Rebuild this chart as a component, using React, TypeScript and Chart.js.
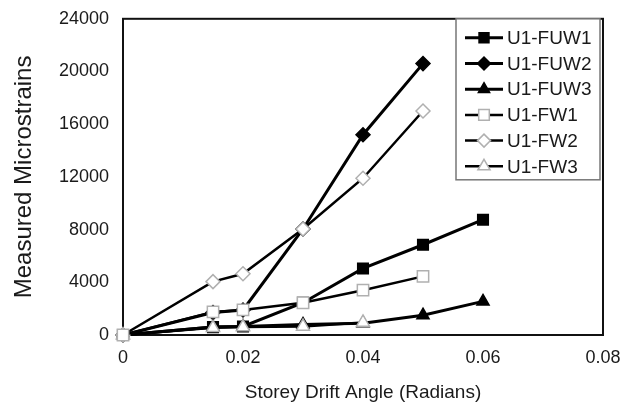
import React, { useEffect, useRef } from 'react';
import { Chart, registerables } from 'chart.js';
import { drawPoint } from 'chart.js/helpers';

Chart.register(...registerables);

// ---- data ----
const seriesNames = ['U1-FUW1', 'U1-FUW2', 'U1-FUW3', 'U1-FW1', 'U1-FW2', 'U1-FW3'];

const driftFUW1 = [0, 0.015, 0.02, 0.03, 0.04, 0.05, 0.06];
const strainFUW1 = [0, 600, 650, 2450, 5050, 6850, 8750];

const driftFUW2 = [0, 0.015, 0.02, 0.03, 0.04, 0.05];
const strainFUW2 = [0, 1700, 1900, 8050, 15200, 20600];

const driftFUW3 = [0, 0.015, 0.02, 0.03, 0.04, 0.05, 0.06];
const strainFUW3 = [0, 600, 650, 800, 900, 1500, 2550];

const driftFW1 = [0, 0.015, 0.02, 0.03, 0.04, 0.05];
const strainFW1 = [0, 1750, 1900, 2450, 3400, 4450];

const driftFW2 = [0, 0.015, 0.02, 0.03, 0.04, 0.05];
const strainFW2 = [0, 4050, 4650, 8050, 11900, 17000];

const driftFW3 = [0, 0.015, 0.02, 0.03, 0.04];
const strainFW3 = [0, 550, 600, 650, 950];

const xTicks = [0, 0.02, 0.04, 0.06, 0.08];
const yTicks = [0, 4000, 8000, 12000, 16000, 20000, 24000];

const xTitle = 'Storey Drift Angle (Radians)';
const yTitle = 'Measured Microstrains';

// ---- styles ----
const FONT = "'Liberation Sans', Arial, Helvetica, sans-serif";
const OPEN = '#b0b0b0';
const styles = [
  { pointStyle: 'rect', radius: 7.5, fill: '#000', stroke: '#000', lw: 3, order: 1 },
  { pointStyle: 'rectRot', radius: 7, fill: '#000', stroke: '#000', lw: 3, order: 1 },
  { pointStyle: 'triangle', radius: 7, fill: '#000', stroke: '#000', lw: 3, order: 1 },
  { pointStyle: 'rect', radius: 8, fill: '#fff', stroke: OPEN, lw: 2.5, order: 0 },
  { pointStyle: 'rectRot', radius: 7, fill: '#fff', stroke: OPEN, lw: 2.5, order: 0 },
  { pointStyle: 'triangle', radius: 7.5, fill: '#fff', stroke: OPEN, lw: 2.5, order: 0 },
];

const xs = [driftFUW1, driftFUW2, driftFUW3, driftFW1, driftFW2, driftFW3];
const ys = [strainFUW1, strainFUW2, strainFUW3, strainFW1, strainFW2, strainFW3];

const framePlugin = {
  id: 'frame',
  beforeDatasetsDraw(chart: any) {
    const { ctx, chartArea: a } = chart;
    ctx.save();
    ctx.strokeStyle = '#111';
    ctx.lineWidth = 2;
    ctx.strokeRect(a.left, a.top, a.right - a.left, a.bottom - a.top);
    ctx.restore();
  },
};

const legendPlugin = {
  id: 'boxLegend',
  afterDatasetsDraw(chart: any) {
    const { ctx, chartArea: a } = chart;
    const w = 144;
    const h = 161;
    const left = a.right - 3 - w;
    const top = a.top;
    ctx.save();
    ctx.fillStyle = '#fff';
    ctx.fillRect(left, top, w, h);
    ctx.strokeStyle = '#777';
    ctx.lineWidth = 1.5;
    ctx.strokeRect(left, top, w, h);
    chart.data.datasets.forEach((ds: any, i: number) => {
      const st = styles[i];
      const y = top + 19 + i * 25.7;
      ctx.strokeStyle = '#000';
      ctx.lineWidth = st.lw;
      ctx.beginPath();
      ctx.moveTo(left + 9, y);
      ctx.lineTo(left + 47, y);
      ctx.stroke();
      ctx.fillStyle = st.fill;
      ctx.strokeStyle = st.stroke;
      ctx.lineWidth = 1.5;
      drawPoint(ctx, { pointStyle: st.pointStyle, radius: st.radius - 0.5, rotation: 0, borderWidth: 1.5 }, left + 28, y);
      ctx.fillStyle = '#1a1a1a';
      ctx.font = `19px ${FONT}`;
      ctx.textBaseline = 'middle';
      ctx.textAlign = 'left';
      ctx.fillText(ds.label, left + 51, y + 1);
    });
    ctx.restore();
  },
};

export default function App() {
  const ref = useRef<HTMLCanvasElement | null>(null);

  useEffect(() => {
    if (!ref.current) return;
    const datasets = seriesNames.map((name, i) => ({
      label: name,
      data: xs[i].map((x, j) => ({ x, y: ys[i][j] })),
      order: styles[i].order,
      borderColor: '#000',
      borderWidth: styles[i].lw,
      pointStyle: styles[i].pointStyle,
      pointRadius: styles[i].radius,
      pointBackgroundColor: styles[i].fill,
      pointBorderColor: styles[i].stroke,
      pointBorderWidth: 1.5,
      showLine: true,
      fill: false,
      tension: 0,
      clip: false as any,
    }));

    const chart = new Chart(ref.current, {
      type: 'scatter',
      data: { datasets },
      plugins: [framePlugin, legendPlugin],
      options: {
        animation: false,
        responsive: false,
        layout: { padding: { top: 17, right: 25, left: 0, bottom: 0 } },
        plugins: { legend: { display: false }, tooltip: { enabled: false } },
        scales: {
          x: {
            type: 'linear',
            min: 0,
            max: 0.08,
            afterFit: (s: any) => { s.height = 73; },
            afterBuildTicks: (s: any) => { s.ticks = xTicks.map((v) => ({ value: v })); },
            grid: { display: false, drawOnChartArea: false, drawTicks: true, tickLength: 6, tickColor: '#111', tickWidth: 1.5 },
            border: { display: true, color: '#111', width: 2 },
            ticks: {
              color: '#1a1a1a',
              font: { family: FONT, size: 18 },
              padding: 6,
              callback: (v: any) => (Number(v) === 0 ? '0' : Number(v).toFixed(2)),
            },
            title: {
              display: true,
              text: xTitle,
              color: '#1a1a1a',
              font: { family: FONT, size: 19 },
              padding: { top: 0, bottom: 4 },
            },
          },
          y: {
            type: 'linear',
            min: 0,
            max: 24000,
            afterFit: (s: any) => { s.width = 123; },
            afterBuildTicks: (s: any) => { s.ticks = yTicks.map((v) => ({ value: v })); },
            grid: { display: false, drawOnChartArea: false, drawTicks: true, tickLength: 6, tickColor: '#111', tickWidth: 1.5 },
            border: { display: true, color: '#111', width: 2 },
            ticks: {
              color: '#1a1a1a',
              font: { family: FONT, size: 18 },
              padding: 8,
              callback: (v: any) => String(v),
            },
            title: {
              display: true,
              text: yTitle,
              color: '#1a1a1a',
              font: { family: FONT, size: 24 },
              padding: { top: 10, bottom: 0 },
            },
          },
        },
      },
    });
    return () => chart.destroy();
  }, []);

  return (
    <div style={{ position: 'absolute', left: 0, top: 0, width: 628, height: 408, background: '#fff' }}>
      <canvas ref={ref} width={628} height={408} />
    </div>
  );
}
